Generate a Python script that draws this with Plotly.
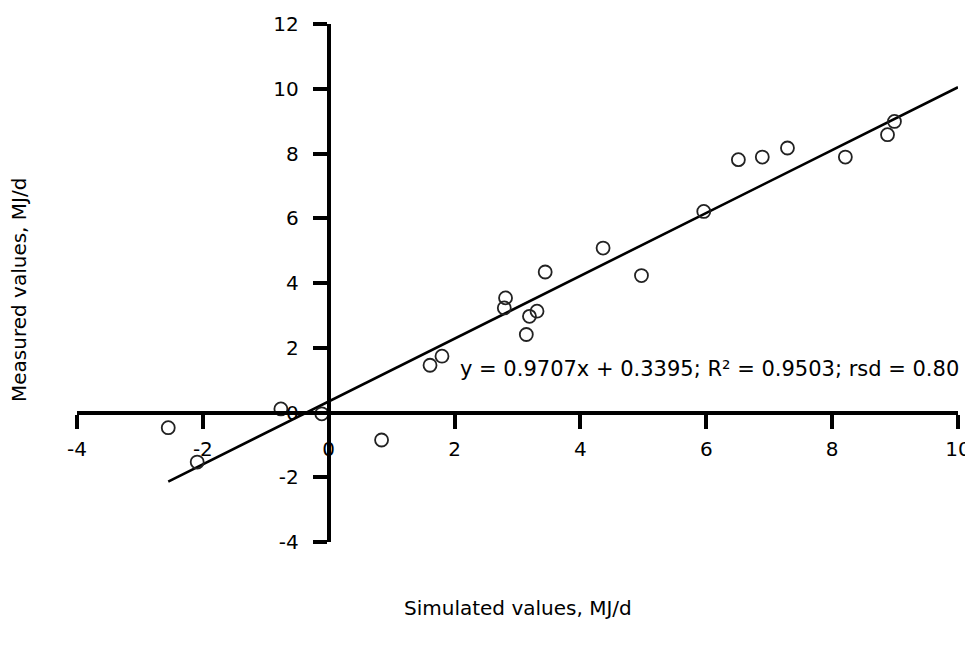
import plotly.graph_objects as go

# Data
simulated = [-2.55, -2.09, -0.76, -0.11, 0.84, 1.61, 1.80, 2.81, 2.79, 3.14, 3.19,
             3.31, 3.44, 4.36, 4.97, 5.96, 6.51, 6.89, 7.29, 8.21, 8.88, 8.99]
measured = [-0.47, -1.53, 0.11, -0.04, -0.85, 1.46, 1.74, 3.54, 3.23, 2.41, 2.97,
            3.13, 4.34, 5.08, 4.23, 6.21, 7.81, 7.89, 8.17, 7.89, 8.58, 8.99]

slope = 0.9707
intercept = 0.3395
line_x = [-2.55, 10.0]
line_y = [slope * v + intercept for v in line_x]

x_ticks = [-4, -2, 0, 2, 4, 6, 8, 10]
y_ticks = [-4, -2, 0, 2, 4, 6, 8, 10, 12]
x_range = [-4, 10]
y_range = [-4, 12]

eq_text = "y = 0.9707x + 0.3395; R² = 0.9503; rsd = 0.80"
x_title = "Simulated values, MJ/d"
y_title = "Measured values, MJ/d"

FONT = "DejaVu Sans"

fig = go.Figure()
fig.add_trace(go.Scatter(x=line_x, y=line_y, mode="lines",
                         line=dict(color="black", width=2.6),
                         hoverinfo="skip", showlegend=False))
fig.add_trace(go.Scatter(x=simulated, y=measured, mode="markers",
                         marker=dict(symbol="circle-open", size=13,
                                     color="#222222", line=dict(width=1.8)),
                         showlegend=False))

x_pos = (0 - y_range[0]) / (y_range[1] - y_range[0])
y_pos = (0 - x_range[0]) / (x_range[1] - x_range[0])

fig.update_layout(
    width=973, height=647,
    margin=dict(l=69, r=23, t=16, b=113),
    paper_bgcolor="white", plot_bgcolor="white",
    font=dict(family=FONT, size=20, color="black"),
    xaxis=dict(range=x_range, tickvals=x_ticks, ticktext=[str(v) for v in x_ticks],
               showgrid=False, zeroline=False, showline=True, linecolor="black",
               linewidth=4, ticks="outside", ticklen=14, tickwidth=4,
               tickcolor="black", anchor="free", position=x_pos,
               ticklabelstandoff=3, tickfont=dict(size=20),
               automargin=False, ticklabeloverflow="allow"),
    yaxis=dict(range=y_range, tickvals=y_ticks, ticktext=[str(v) for v in y_ticks],
               showgrid=False, zeroline=False, showline=True, linecolor="black",
               linewidth=4, ticks="outside", ticklen=14, tickwidth=4,
               tickcolor="black", anchor="free", position=y_pos,
               ticklabelstandoff=10, tickfont=dict(size=20),
               automargin=False, ticklabeloverflow="allow"),
    annotations=[
        dict(x=2.05, y=1.35, xref="x", yref="y", text=eq_text, showarrow=False,
             xanchor="left", yanchor="middle", font=dict(size=21)),
        dict(x=0.5, y=-0.127, xref="paper", yref="paper", text=x_title,
             showarrow=False, xanchor="center", yanchor="middle", font=dict(size=20)),
        dict(x=-0.065, y=0.486, xref="paper", yref="paper", text=y_title,
             showarrow=False, textangle=-90, xanchor="center", yanchor="middle",
             font=dict(size=20)),
    ],
)

fig.write_html("out.html")
